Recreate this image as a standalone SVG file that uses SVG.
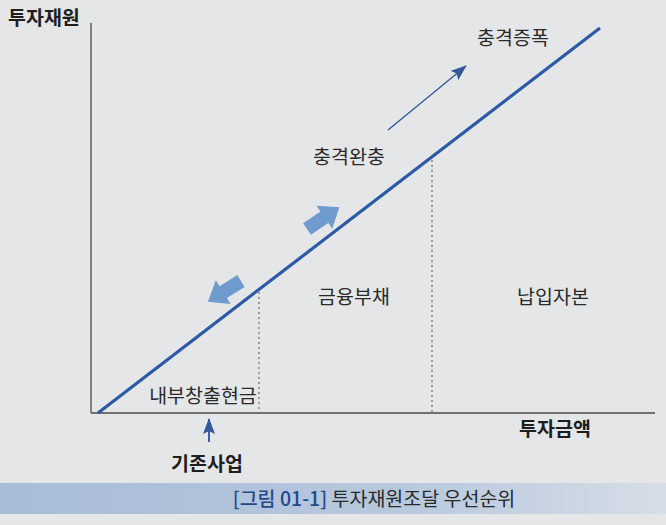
<svg xmlns="http://www.w3.org/2000/svg" width="666" height="525" viewBox="0 0 666 525">
  <defs>
    <linearGradient id="band" x1="0" y1="0" x2="1" y2="0">
      <stop offset="0" stop-color="#a9bcd6"/>
      <stop offset="0.6" stop-color="#b7c8de"/>
      <stop offset="1" stop-color="#d6dde6"/>
    </linearGradient>
    <marker id="thinHead" viewBox="0 0 16 12" refX="15" refY="6" markerWidth="16" markerHeight="12" orient="auto" markerUnits="userSpaceOnUse">
      <path d="M0,0 L16,6 L0,12 L3,6 z" fill="#35589a"/>
    </marker>
    <polygon id="blockArrow" points="0,-7 21,-7 21,-14 39,0 21,14 21,7 0,7"/>
  </defs>
  <style>
    .lbl { font-family: "Noto Sans CJK KR", "Noto Sans", sans-serif; font-size: 19.5px; fill: #2a2a2a; }
    .bold { font-weight: bold; fill: #1e1e1e; }
    .axis { stroke: #4a4a4a; stroke-width: 1.3; fill: none; }
    .dot { stroke: #777; stroke-width: 1.3; stroke-dasharray: 2 3; fill: none; }
    .block { fill: #709bcf; }
  </style>
  <rect width="666" height="525" fill="#e5e6e7"/>

  <g id="axes">
    <line class="axis" x1="91" y1="23" x2="91" y2="413"/>
    <line class="axis" x1="91" y1="413" x2="655" y2="413"/>
  </g>

  <g id="connectors">
    <line class="dot" x1="259" y1="292" x2="259" y2="412"/>
    <line class="dot" x1="432" y1="160" x2="432" y2="412"/>
    <line x1="98" y1="413" x2="600" y2="28" stroke="#2c5aa6" stroke-width="3.2"/>
    <line x1="388" y1="130" x2="466" y2="66" stroke="#35589a" stroke-width="1.4" marker-end="url(#thinHead)"/>
    <line x1="209" y1="442" x2="209" y2="419" stroke="#2c4f94" stroke-width="1.8" marker-end="url(#thinHead)"/>
    <use href="#blockArrow" class="block" transform="translate(307,229) rotate(-34)"/>
    <use href="#blockArrow" class="block" transform="translate(241,281) rotate(148)"/>
  </g>

  <g id="y-axis-label"><text class="lbl bold" x="8" y="25">투자재원</text></g>
  <g id="x-axis-label"><text class="lbl bold" x="555" y="436" text-anchor="middle">투자금액</text></g>
  <g id="amplify"><text class="lbl" x="513" y="45" text-anchor="middle">충격증폭</text></g>
  <g id="buffer"><text class="lbl" x="349" y="164" text-anchor="middle">충격완충</text></g>
  <g id="debt"><text class="lbl" x="354" y="304" text-anchor="middle">금융부채</text></g>
  <g id="equity"><text class="lbl" x="553" y="304" text-anchor="middle">납입자본</text></g>
  <g id="internal"><text class="lbl" x="203" y="403" text-anchor="middle">내부창출현금</text></g>
  <g id="existing"><text class="lbl bold" x="207" y="471" text-anchor="middle">기존사업</text></g>

  <g id="caption">
    <rect x="0" y="483" width="666" height="31" fill="url(#band)"/>
    <text class="lbl" x="374" y="506" text-anchor="middle" font-size="20"><tspan fill="#24488c" font-weight="500">[그림 01-1]</tspan> 투자재원조달 우선순위</text>
  </g>
</svg>
